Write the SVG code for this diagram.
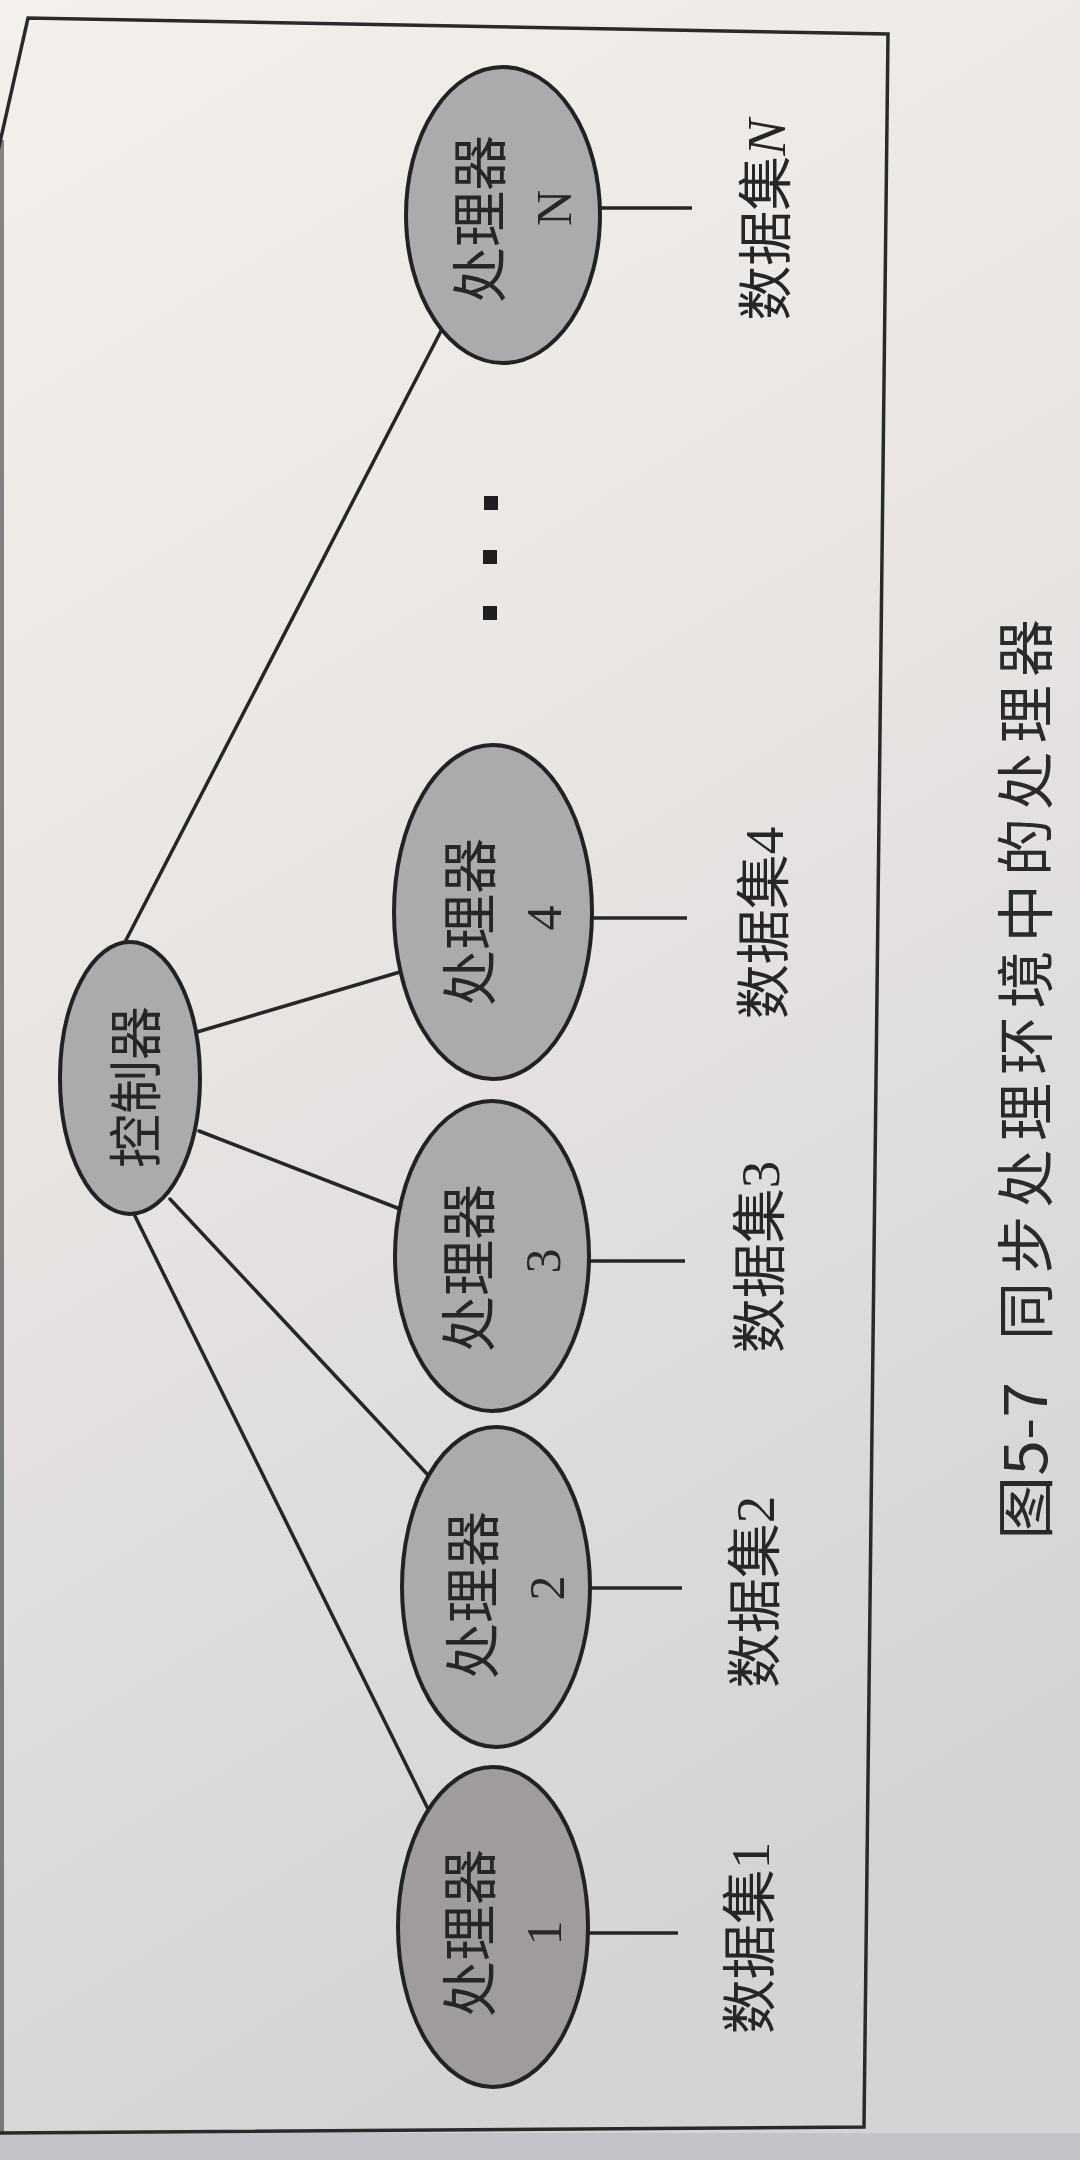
<svg xmlns="http://www.w3.org/2000/svg" width="1080" height="2160" viewBox="0 0 1080 2160">
<defs>
<linearGradient id="page" x1="0" y1="0" x2="0.3" y2="1">
<stop offset="0" stop-color="#f4f1ec"/>
<stop offset="0.5" stop-color="#e7e4e2"/>
<stop offset="1" stop-color="#d6d3d6"/>
</linearGradient>
<style>
.node{fill:#adaaab;stroke:#222;stroke-width:4}
.dark{fill:#a09c9e}
.edge{stroke:#262626;stroke-width:3.5;fill:none;stroke-linecap:round}
.stub{stroke:#262626;stroke-width:3.5}
.lbl{font-family:"Liberation Serif","Noto Sans CJK SC",serif;fill:#262626;text-anchor:middle;dominant-baseline:central}
.cap{font-family:"Noto Sans CJK SC","Liberation Sans",sans-serif;fill:#2a2a2a;dominant-baseline:central}
</style>
</defs>
<rect x="0" y="0" width="1080" height="2160" fill="url(#page)"/>
<rect x="0" y="2133" width="1080" height="27" fill="#c4c3c7"/>
<g id="frame" fill="none" stroke="#2a2a2a" stroke-width="3.5">
<polyline points="-4,160 28,18 888,34 864,2127 -4,2133"/>
<line x1="2" y1="140" x2="2" y2="2133" stroke-width="4" opacity="0.55"/>
</g>
<g id="connectors">
<line class="edge" x1="125" y1="942" x2="441" y2="331"/>
<line class="edge" x1="197" y1="1032" x2="400" y2="972"/>
<line class="edge" x1="199" y1="1131" x2="400" y2="1209"/>
<line class="edge" x1="170" y1="1199" x2="428" y2="1475"/>
<line class="edge" x1="134" y1="1214" x2="428" y2="1809"/>
<line class="stub" x1="598" y1="208" x2="692" y2="208"/>
<line class="stub" x1="590" y1="918" x2="687" y2="918"/>
<line class="stub" x1="588" y1="1261" x2="685" y2="1261"/>
<line class="stub" x1="589" y1="1588" x2="682" y2="1588"/>
<line class="stub" x1="587" y1="1933" x2="678" y2="1933"/>
</g>
<g id="controller">
<ellipse class="node" cx="130" cy="1078" rx="70" ry="136"/>
<text class="lbl" font-size="54" transform="translate(138,1087) rotate(-90)">控制器</text>
</g>
<g id="processorN">
<ellipse class="node" cx="503" cy="215" rx="97" ry="148"/>
<text class="lbl" font-size="56" transform="translate(481,219) rotate(-90)">处理器</text>
<text class="lbl" font-size="50" transform="translate(554,208) rotate(-90)">N</text>
</g>
<g id="processor4">
<ellipse class="node" cx="493" cy="912" rx="99" ry="167"/>
<text class="lbl" font-size="56" transform="translate(471,922) rotate(-90)">处理器</text>
<text class="lbl" font-size="50" transform="translate(544,918) rotate(-90)">4</text>
</g>
<g id="processor3">
<ellipse class="node" cx="492" cy="1256" rx="97" ry="155"/>
<text class="lbl" font-size="56" transform="translate(470,1268) rotate(-90)">处理器</text>
<text class="lbl" font-size="50" transform="translate(543,1261) rotate(-90)">3</text>
</g>
<g id="processor2">
<ellipse class="node" cx="496" cy="1587" rx="94" ry="160"/>
<text class="lbl" font-size="56" transform="translate(474,1595) rotate(-90)">处理器</text>
<text class="lbl" font-size="50" transform="translate(547,1588) rotate(-90)">2</text>
</g>
<g id="processor1">
<ellipse class="node dark" cx="493" cy="1927" rx="95" ry="160"/>
<text class="lbl" font-size="56" transform="translate(471,1933) rotate(-90)">处理器</text>
<text class="lbl" font-size="50" transform="translate(544,1933) rotate(-90)">1</text>
</g>
<g id="datasets">
<text class="lbl" font-size="55" transform="translate(766,220) rotate(-90)">数据集<tspan font-style="italic">N</tspan></text>
<text class="lbl" font-size="55" transform="translate(764,923) rotate(-90)">数据集4</text>
<text class="lbl" font-size="55" transform="translate(760,1257) rotate(-90)">数据集3</text>
<text class="lbl" font-size="55" transform="translate(755,1592) rotate(-90)">数据集2</text>
<text class="lbl" font-size="55" transform="translate(750,1938) rotate(-90)">数据集1</text>
</g>
<g id="ellipsis" fill="#1e1e1e">
<rect x="484" y="496" width="14" height="14"/>
<rect x="483" y="550" width="14" height="14"/>
<rect x="483" y="606" width="14" height="14"/>
</g>
<g id="caption">
<text class="cap" font-size="58" transform="translate(1022,1540) rotate(-90)" textLength="158" lengthAdjust="spacingAndGlyphs">图5-7</text>
<text class="cap" font-size="58" transform="translate(1022,1340) rotate(-90)" textLength="721" lengthAdjust="spacing">同步处理环境中的处理器</text>
</g>
</svg>
